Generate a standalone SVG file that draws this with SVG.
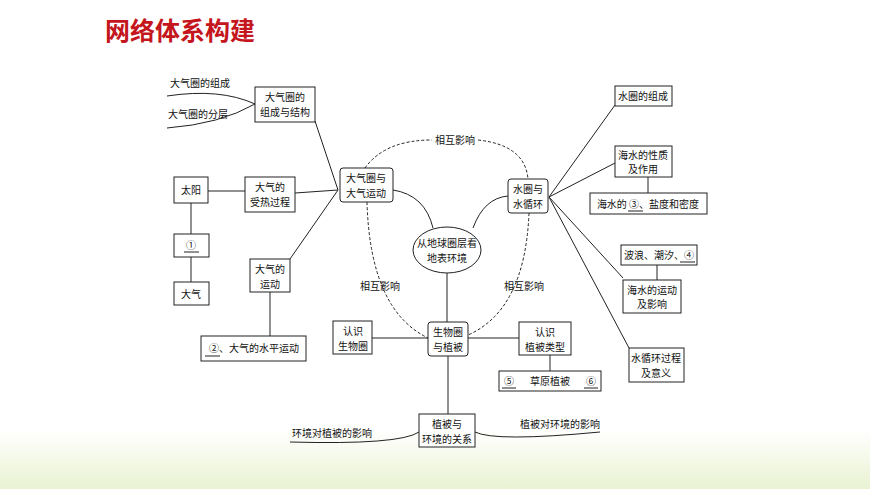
<svg xmlns="http://www.w3.org/2000/svg" width="870" height="489" viewBox="0 0 870 489">
<defs>
<linearGradient id="bg" x1="0" y1="0" x2="0" y2="1"><stop offset="0" stop-color="#fff"/><stop offset="1" stop-color="#e9f2d2"/></linearGradient>
<style>
text{font-family:"Noto Sans CJK SC","Liberation Sans",sans-serif;font-size:10px;fill:#111;text-anchor:middle}
.b{fill:#fff;stroke:#222;stroke-width:1}
.l{fill:none;stroke:#222;stroke-width:1}
.d{fill:none;stroke:#222;stroke-width:1;stroke-dasharray:3,2}
</style>
</defs>
<rect width="870" height="489" fill="#fff"/>
<rect y="430" width="870" height="59" fill="url(#bg)"/>
<text x="180" y="40" style="font-size:25px;font-weight:bold;fill:#c4161c">网络体系构建</text>
<g id="connectors">
<path class="l" d="M255,104 Q220,88 167,96 M255,104 Q220,124 167,128"/>
<path class="l" d="M315,121 L338,190 M295,193 L338,190 M290,259 L338,190 M208,191 L245,191 M191,203 V234 M191,257 V282 M270,292 V336"/>
<path class="l" d="M393,190 Q425,195 433,228 M508,196 Q484,198 473,228 M447,273 V322 M372,338 H428 M468,338 H519 M550,355 V371 M448,356 V414 M648,177 V193 M657,265 V280"/>
<path class="l" d="M549,197 L615,105 M549,197 L615,163 M549,197 L623,278 M549,197 L629,348"/>
<path class="l" d="M419,432 Q400,445 290,442 M475,432 Q495,442 600,432"/>
<path class="d" d="M365,168 Q385,140 432,140 M478,140 Q525,145 528,179 M367,202 Q370,310 428,338 M529,213 Q525,310 468,335"/>
<text x="455" y="144">相互影响</text>
<text x="380" y="290">相互影响</text>
<text x="524" y="290">相互影响</text>
<text x="332" y="437">环境对植被的影响</text>
<text x="560" y="428">植被对环境的影响</text>
<text x="200" y="87">大气圈的组成</text>
<text x="198" y="118">大气圈的分层</text>
</g>
<g id="n1"><rect class="b" x="255" y="87" width="60" height="35"/><text x="285" y="101">大气圈的</text><text x="285" y="116">组成与结构</text></g>
<g id="n2"><rect class="b" x="340" y="168" width="53" height="34" rx="3"/><text x="366" y="182">大气圈与</text><text x="366" y="197">大气运动</text></g>
<g id="n3"><rect class="b" x="174" y="177" width="34" height="26"/><text x="191" y="194">太阳</text></g>
<g id="n4"><rect class="b" x="245" y="177" width="50" height="35"/><text x="270" y="191">大气的</text><text x="270" y="206">受热过程</text></g>
<g id="n5"><rect class="b" x="174" y="234" width="35" height="23"/><text x="191" y="249">①</text><path class="l" d="M184,252 H199"/></g>
<g id="n6"><rect class="b" x="174" y="282" width="35" height="23"/><text x="191" y="298">大气</text></g>
<g id="n7"><rect class="b" x="250" y="259" width="40" height="33"/><text x="270" y="273">大气的</text><text x="270" y="288">运动</text></g>
<g id="n8"><rect class="b" x="201" y="336" width="105" height="25"/><text x="254" y="352">②、大气的水平运动</text><path class="l" d="M205,356 H220"/></g>
<g id="n9"><ellipse class="b" cx="447" cy="250" rx="34" ry="23"/><text x="447" y="247">从地球圈层看</text><text x="447" y="262">地表环境</text></g>
<g id="n10"><rect class="b" x="508" y="179" width="40" height="34" rx="3"/><text x="528" y="193">水圈与</text><text x="528" y="208">水循环</text></g>
<g id="n11"><rect class="b" x="428" y="322" width="40" height="34" rx="3"/><text x="448" y="336">生物圈</text><text x="448" y="351">与植被</text></g>
<g id="n12"><rect class="b" x="333" y="321" width="39" height="33"/><text x="353" y="335">认识</text><text x="353" y="350">生物圈</text></g>
<g id="n13"><rect class="b" x="519" y="322" width="52" height="33"/><text x="545" y="336">认识</text><text x="545" y="351">植被类型</text></g>
<g id="n14"><rect class="b" x="499" y="371" width="102" height="20"/><text x="509" y="385">⑤</text><text x="550" y="385">草原植被</text><text x="591" y="385">⑥</text><path class="l" d="M502,388 H516 M584,388 H598"/></g>
<g id="n15"><rect class="b" x="419" y="414" width="56" height="33"/><text x="447" y="428">植被与</text><text x="447" y="443">环境的关系</text></g>
<g id="n16"><rect class="b" x="615" y="86" width="57" height="20"/><text x="643" y="100">水圈的组成</text></g>
<g id="n17"><rect class="b" x="615" y="146" width="57" height="31"/><text x="643" y="159">海水的性质</text><text x="643" y="173">及作用</text></g>
<g id="n18"><rect class="b" x="590" y="193" width="117" height="21"/><text x="648" y="208">海水的 ③、盐度和密度</text><path class="l" d="M628,211 H643"/></g>
<g id="n19"><rect class="b" x="621" y="245" width="76" height="20"/><text x="659" y="259">波浪、潮汐、④</text><path class="l" d="M680,262 H695"/></g>
<g id="n20"><rect class="b" x="623" y="280" width="58" height="33"/><text x="652" y="294">海水的运动</text><text x="652" y="308">及影响</text></g>
<g id="n21"><rect class="b" x="629" y="348" width="55" height="34"/><text x="656" y="362">水循环过程</text><text x="656" y="377">及意义</text></g>
</svg>
